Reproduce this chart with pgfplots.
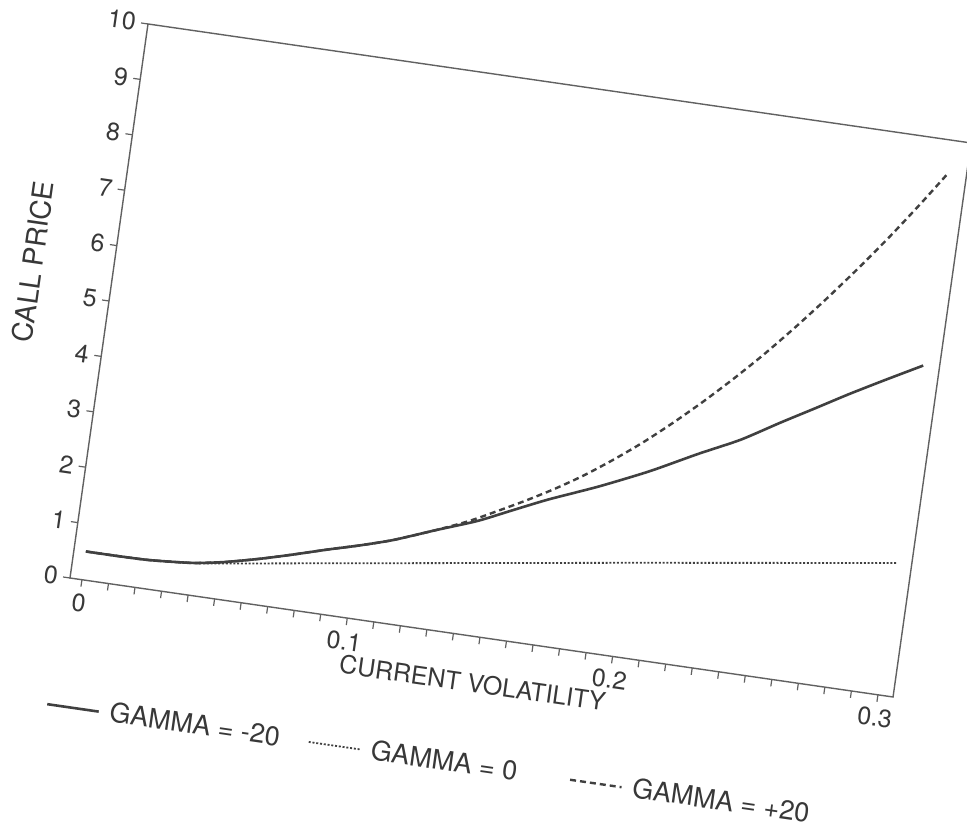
\documentclass[border=0pt]{standalone}
\usepackage{pgfplots}
\pgfplotsset{compat=1.18}
\usepackage{fontspec}
\setmainfont{TeX Gyre Heros}
\definecolor{ink}{gray}{0.22}
\definecolor{axisgray}{gray}{0.38}
\definecolor{curve}{gray}{0.25}
\begin{document}
\begin{tikzpicture}
\useasboundingbox (0,0) rectangle (483.5pt,417pt);
\begin{scope}[transform canvas={cm={0.9897,-0.1431,0.1394,0.9902,(35pt,128pt)}}]
\begin{axis}[
  at={(0pt,0pt)}, anchor=south west,
  scale only axis, width=415.8pt, height=279.75pt,
  xmin=-0.0045, xmax=0.3057, ymin=0, ymax=10,
  xtick={0,0.1,0.2,0.3}, xticklabels={0,0.1,0.2,0.3},
  minor x tick num=9,
  ytick={0,1,2,3,4,5,6,7,8,9,10},
  tick pos=left, tick align=outside,
  major tick length=3.5pt, minor tick length=3.5pt,
  axis line style={axisgray, line width=0.7pt},
  every tick/.style={axisgray, line width=0.6pt},
  /pgf/number format/assume math mode=true,
  tick label style={text=ink, font=\fontsize{12.5}{14}\selectfont},
  yticklabel style={inner sep=1.5pt, xshift=-1pt},
  label style={text=ink, font=\fontsize{12.5}{14}\selectfont},
  xlabel={CURRENT VOLATILITY}, ylabel={CALL PRICE},
  xlabel style={at={(axis description cs:0.497,-0.083)}, anchor=center},
  ylabel style={at={(axis description cs:-0.097,0.55)}, anchor=center,
    font=\fontsize{14}{16}\selectfont},
  legend columns=3,
  legend cell align=left,
  legend image code/.code={\draw[#1] (0pt,0pt) -- (26pt,0pt);},
  legend style={at={(axis description cs:-0.008,-0.229)}, anchor=west,
    draw=none, fill=none, inner sep=0pt, text=ink,
    font=\fontsize{13.5}{15}\selectfont},
]
\addplot[curve, line width=1.3pt, smooth, tension=0.4] coordinates {
(0.000,0.51) (0.012,0.51) (0.024,0.52) (0.040,0.58) (0.052,0.68) (0.065,0.83)
(0.077,0.99) (0.089,1.16) (0.101,1.32) (0.113,1.50) (0.128,1.78) (0.143,2.05)
(0.155,2.32) (0.168,2.61) (0.186,2.97) (0.204,3.37) (0.221,3.80) (0.236,4.16)
(0.250,4.57) (0.262,4.91) (0.2735,5.24) (0.286,5.58) (0.2996,5.94)
};
\addlegendentry{\makebox[101pt][l]{\hspace{3pt}GAMMA = -20}}
\addplot[curve, line width=0.9pt, dash pattern=on 1pt off 0.9pt] coordinates {
(0.000,0.51) (0.024,0.52) (0.043,0.59) (0.100,0.99) (0.200,1.69) (0.300,2.38)
};
\addlegendentry{\makebox[101pt][l]{\hspace{3pt}GAMMA = 0}}
\addplot[curve, line width=1.2pt, dash pattern=on 3pt off 2pt, smooth, tension=0.4] coordinates {
(0.000,0.51) (0.012,0.51) (0.024,0.52) (0.040,0.58) (0.052,0.68) (0.065,0.83)
(0.077,0.99) (0.089,1.16) (0.101,1.32) (0.113,1.50) (0.128,1.78) (0.140,2.03)
(0.150,2.28) (0.160,2.54) (0.170,2.82) (0.180,3.13) (0.190,3.48) (0.200,3.86)
(0.210,4.28) (0.220,4.73) (0.230,5.21) (0.240,5.72) (0.250,6.27) (0.260,6.85)
(0.270,7.46) (0.280,8.10) (0.290,8.78) (0.299,9.42)
};
\addlegendentry{\makebox[101pt][l]{\hspace{3pt}GAMMA = +20}}
\end{axis}
\end{scope}
\end{tikzpicture}
\end{document}
